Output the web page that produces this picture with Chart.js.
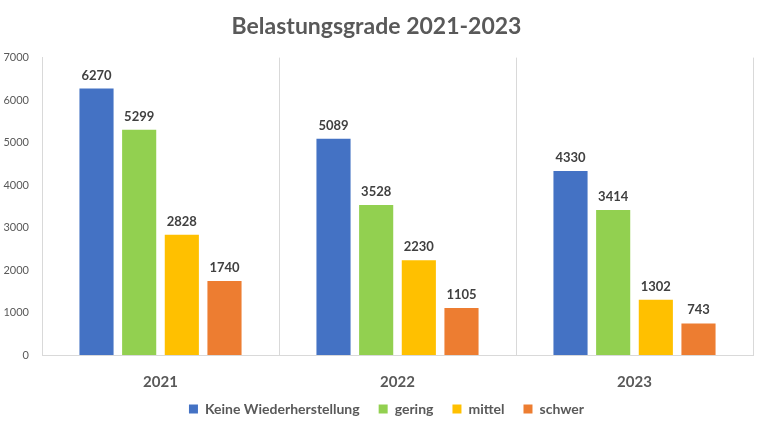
<!DOCTYPE html>
<html>
<head>
<meta charset="utf-8">
<script src="https://cdn.jsdelivr.net/npm/chart.js@4"></script>
<style>
  html, body { margin: 0; padding: 0; background: #fff; }
  #wrap { width: 767px; height: 430px; }
</style>
</head>
<body>
<div id="wrap"><canvas id="chart"></canvas></div>
<script>
// chart data
const years = ["2021", "2022", "2023"];
const keineWiederherstellung = [6270, 5089, 4330];
const gering = [5299, 3528, 3414];
const mittel = [2828, 2230, 1302];
const schwer = [1740, 1105, 743];
const yTicks = [0, 1000, 2000, 3000, 4000, 5000, 6000, 7000];

const fontFamily = "Lato, 'Open Sans', sans-serif";
const textGray = "#595959";
const lineGray = "#d9d9d9";

// draws the value above each bar
const valueLabels = {
    id: 'valueLabels',
    afterDatasetsDraw(chart) {
        const ctx = chart.ctx;
        ctx.save();
        ctx.font = "bold 13px " + fontFamily;
        ctx.fillStyle = "#404040";
        ctx.textAlign = "center";
        ctx.textBaseline = "alphabetic";
        chart.data.datasets.forEach((ds, i) => {
            const meta = chart.getDatasetMeta(i);
            meta.data.forEach((bar, j) => {
                ctx.fillText(String(ds.data[j]), bar.x, bar.y - 9);
            });
        });
        ctx.restore();
    }
};

// legend padding is big for the spacing between items, pull it up a bit
const legendNudge = {
    id: 'legendNudge',
    afterLayout(chart) {
        const lg = chart.legend;
        lg.top -= 10;
        lg.bottom -= 10;
        lg.left += 10;
        lg.right += 10;
    }
};

const ctx = document.getElementById('chart');

new Chart(ctx, {
    type: 'bar',
    data: {
        labels: years,
        datasets: [
            { label: 'Keine Wiederherstellung', data: keineWiederherstellung, backgroundColor: '#4472C4' },
            { label: 'gering', data: gering, backgroundColor: '#92D050' },
            { label: 'mittel', data: mittel, backgroundColor: '#FFC000' },
            { label: 'schwer', data: schwer, backgroundColor: '#ED7D31' }
        ]
    },
    options: {
        responsive: true,
        maintainAspectRatio: false,
        animation: false,
        devicePixelRatio: 1,
        layout: { padding: { left: 0, right: 14, top: 5, bottom: -6 } },
        datasets: {
            bar: { categoryPercentage: 0.72, barPercentage: 0.8 }
        },
        scales: {
            x: {
                afterFit: axis => { axis.height = 38; },
                grid: { display: true, color: lineGray, drawTicks: false, offset: true },
                border: { display: true, color: lineGray },
                ticks: {
                    color: textGray,
                    font: { family: fontFamily, size: 15, weight: 'bold' },
                    padding: 18
                }
            },
            y: {
                min: 0,
                max: 7000,
                afterBuildTicks: axis => { axis.ticks = yTicks.map(v => ({ value: v })); },
                afterFit: axis => { axis.width = 42; },
                grid: { display: false, drawTicks: false },
                border: { display: true, color: lineGray },
                ticks: {
                    color: textGray,
                    font: { family: fontFamily, size: 11 },
                    padding: 13,
                    callback: v => String(v)
                }
            }
        },
        plugins: {
            title: {
                display: true,
                text: 'Belastungsgrade 2021-2023',
                color: textGray,
                font: { family: fontFamily, size: 23, weight: 'bold' },
                padding: { top: 8, bottom: 17 }
            },
            legend: {
                position: 'bottom',
                labels: {
                    color: textGray,
                    font: { family: fontFamily, size: 14, weight: 'bold' },
                    boxWidth: 9,
                    boxHeight: 9,
                    padding: 19
                }
            },
            tooltip: { enabled: false }
        }
    },
    plugins: [valueLabels, legendNudge]
});
</script>
</body>
</html>
